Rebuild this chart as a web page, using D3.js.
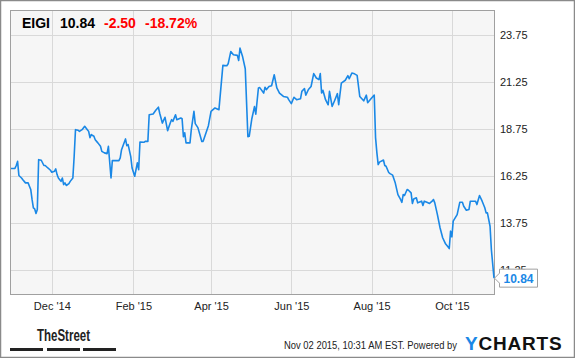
<!doctype html>
<html>
<head>
<meta charset="utf-8"/>
<title>EIGI</title>
<script src="https://d3js.org/d3.v7.min.js"></script>
<style>
  body { margin: 0; background: #fff; }
  text { font-family: Arial, "Liberation Sans", sans-serif; }
</style>
</head>
<body>
<script>
// price history
var dates = [
 "2014-10-31","2014-11-03","2014-11-04","2014-11-05","2014-11-06","2014-11-08","2014-11-09","2014-11-11","2014-11-13","2014-11-14",
 "2014-11-15","2014-11-16","2014-11-17","2014-11-18","2014-11-19","2014-11-20","2014-11-21","2014-11-23","2014-11-25","2014-11-26",
 "2014-11-28","2014-11-30","2014-12-01","2014-12-03","2014-12-04","2014-12-05","2014-12-06","2014-12-08","2014-12-09","2014-12-10",
 "2014-12-11","2014-12-12","2014-12-14","2014-12-15","2014-12-17","2014-12-18","2014-12-19","2014-12-21","2014-12-22","2014-12-24",
 "2014-12-26","2014-12-28","2014-12-29","2014-12-30","2014-12-31","2015-01-02","2015-01-03","2015-01-05","2015-01-07","2015-01-08",
 "2015-01-10","2015-01-12","2015-01-13","2015-01-15","2015-01-16","2015-01-21","2015-01-22","2015-01-23","2015-01-26","2015-01-27",
 "2015-01-28","2015-01-30","2015-01-31","2015-02-02","2015-02-04","2015-02-05","2015-02-06","2015-02-09","2015-02-10","2015-02-12",
 "2015-02-13","2015-02-16","2015-02-18","2015-02-20","2015-02-21","2015-02-23","2015-02-25","2015-02-27","2015-03-01","2015-03-02",
 "2015-03-03","2015-03-05","2015-03-06","2015-03-09","2015-03-10","2015-03-11","2015-03-12","2015-03-13","2015-03-16","2015-03-17",
 "2015-03-19","2015-03-20","2015-03-22","2015-03-25","2015-03-26","2015-03-30","2015-04-01","2015-04-04","2015-04-07","2015-04-10",
 "2015-04-13","2015-04-14","2015-04-16","2015-04-18","2015-04-21","2015-04-22","2015-04-23","2015-04-25","2015-04-27","2015-04-29",
 "2015-04-30","2015-05-02","2015-05-04","2015-05-05","2015-05-07","2015-05-08","2015-05-11","2015-05-12","2015-05-13","2015-05-15",
 "2015-05-17","2015-05-19","2015-05-21","2015-05-23","2015-05-26","2015-05-29","2015-05-30","2015-06-01","2015-06-03","2015-06-05",
 "2015-06-08","2015-06-09","2015-06-11","2015-06-12","2015-06-14","2015-06-16","2015-06-18","2015-06-20","2015-06-22","2015-06-23",
 "2015-06-24","2015-06-25","2015-06-27","2015-06-29","2015-06-30","2015-07-02","2015-07-04","2015-07-06","2015-07-07","2015-07-09",
 "2015-07-12","2015-07-14","2015-07-15","2015-07-17","2015-07-19","2015-07-21","2015-07-23","2015-07-26","2015-07-28","2015-07-29",
 "2015-08-01","2015-08-03","2015-08-04","2015-08-05","2015-08-06","2015-08-07","2015-08-10","2015-08-11","2015-08-12","2015-08-14",
 "2015-08-15","2015-08-17","2015-08-19","2015-08-21","2015-08-23","2015-08-24","2015-08-25","2015-08-26","2015-08-28","2015-08-29",
 "2015-08-31","2015-09-01","2015-09-02","2015-09-04","2015-09-05","2015-09-06","2015-09-08","2015-09-09","2015-09-10","2015-09-12",
 "2015-09-14","2015-09-16","2015-09-17","2015-09-18","2015-09-20","2015-09-22","2015-09-24","2015-09-26","2015-09-28","2015-09-29",
 "2015-09-30","2015-10-01","2015-10-02","2015-10-05","2015-10-07","2015-10-09","2015-10-10","2015-10-12","2015-10-14","2015-10-15",
 "2015-10-17","2015-10-19","2015-10-20","2015-10-22","2015-10-24","2015-10-26","2015-10-27","2015-10-28","2015-10-30","2015-10-31",
 "2015-11-02"];
var prices = [
 16.65,16.66,16.81,17.03,16.28,16.15,16.06,15.89,15.89,15.71,
 15.54,15.01,14.57,14.51,14.27,14.48,17.12,17.09,16.81,16.81,
 16.68,16.56,16.45,16.50,16.63,16.33,16.15,15.97,16.15,15.80,
 15.89,15.75,15.85,15.97,16.15,17.30,18.71,18.68,18.62,18.71,
 18.89,18.71,18.62,18.29,18.45,18.36,18.18,18.01,17.83,17.56,
 17.48,17.44,17.83,16.15,17.07,17.07,17.21,17.65,18.22,17.86,
 17.92,17.28,16.68,16.24,16.95,16.59,18.05,18.04,18.09,18.09,
 19.50,19.54,19.74,19.90,19.58,19.06,19.37,18.66,19.06,19.24,
 19.15,19.50,19.24,19.33,19.29,18.34,18.54,18.01,18.01,18.71,
 19.68,19.03,18.82,18.08,18.09,18.92,19.68,19.86,19.77,22.12,
 22.10,22.20,22.85,22.68,22.65,22.38,23.03,22.57,21.94,18.34,
 18.36,19.29,19.93,19.53,20.92,20.94,20.65,20.96,20.83,21.00,
 21.04,21.62,20.92,20.65,20.47,20.43,20.30,20.09,20.43,20.30,
 20.35,20.74,20.89,20.54,20.84,21.00,21.68,21.45,21.36,21.68,
 20.65,20.80,20.30,20.03,20.74,19.94,20.27,20.62,20.03,21.18,
 21.33,21.57,21.41,21.71,21.67,21.59,20.47,20.24,20.54,20.14,
 20.39,20.54,18.29,17.49,16.86,16.99,17.10,16.81,16.77,16.44,
 16.38,16.30,15.88,15.27,15.01,14.86,15.27,15.22,15.54,15.50,
 15.36,14.80,15.04,15.10,14.83,14.86,14.92,14.69,14.92,14.86,
 14.80,14.92,15.01,14.83,14.21,13.51,12.98,12.68,12.50,12.41,
 13.33,13.03,13.86,14.21,14.86,14.86,14.65,14.44,14.48,14.92,
 14.92,14.92,14.74,15.22,14.92,14.57,14.30,14.30,13.59,12.36,
 10.84];

var xTicks = ["2014-12-01","2015-02-01","2015-04-01","2015-06-01","2015-08-01","2015-10-01"];
var yTicks = [11.25, 13.75, 16.25, 18.75, 21.25, 23.75];
var xDomain = ["2014-10-31","2015-11-02"];
var yDomain = [10, 25];

var ticker = "EIGI";
var lastPrice = "10.84";
var change = "-2.50";
var changePct = "-18.72%";
var stamp = "Nov 02 2015, 10:31 AM EST.";

var W = 575, H = 358;
var pLeft = 11, pRight = 494, pTop = 11, pBottom = 294;

var parse = d3.timeParse("%Y-%m-%d");
var data = dates.map(function(d, i) { return {date: parse(d), price: prices[i]}; });

var svg = d3.select("body").append("svg")
  .attr("width", W).attr("height", H);

// outer frame
svg.append("rect")
  .attr("x", 0.5).attr("y", 0.5).attr("width", W - 1).attr("height", H - 1)
  .attr("fill", "#fff").attr("stroke", "#8a8a8a").attr("stroke-width", 1.5);

var x = d3.scaleTime().domain(xDomain.map(parse)).range([pLeft, pRight]);
var y = d3.scaleLinear().domain(yDomain).range([pBottom, pTop]);

// plot background
svg.append("rect")
  .attr("x", pLeft).attr("y", pTop).attr("width", pRight - pLeft).attr("height", pBottom - pTop)
  .attr("fill", "#f6f6f6");

// grid
svg.append("g").selectAll("line").data(yTicks).join("line")
  .attr("x1", pLeft).attr("x2", pRight)
  .attr("y1", function(d) { return Math.round(y(d)) + 0.5; })
  .attr("y2", function(d) { return Math.round(y(d)) + 0.5; })
  .attr("stroke", "#d9d9d9");
svg.append("g").selectAll("line").data(xTicks.map(parse)).join("line")
  .attr("y1", pTop).attr("y2", pBottom)
  .attr("x1", function(d) { return Math.round(x(d)) + 0.5; })
  .attr("x2", function(d) { return Math.round(x(d)) + 0.5; })
  .attr("stroke", "#d9d9d9");

// plot border
svg.append("rect")
  .attr("x", pLeft - 0.5).attr("y", pTop - 0.5).attr("width", pRight - pLeft + 1).attr("height", pBottom - pTop + 1)
  .attr("fill", "none").attr("stroke", "#a0a0a0");

// axes
var xAxis = d3.axisBottom(x).tickValues(xTicks.map(parse))
  .tickFormat(d3.timeFormat("%b '%y")).tickSize(0).tickPadding(8);
svg.append("g").attr("transform", "translate(0," + pBottom + ")").call(xAxis)
  .call(function(g) { g.select(".domain").remove(); })
  .selectAll("text").attr("font-size", 11).attr("fill", "#222")
  .style("font-family", "Arial, 'Liberation Sans', sans-serif");

var yAxis = d3.axisRight(y).tickValues(yTicks).tickFormat(d3.format(".2f")).tickSize(0).tickPadding(6);
svg.append("g").attr("transform", "translate(" + pRight + ",0)").call(yAxis)
  .call(function(g) { g.select(".domain").remove(); })
  .selectAll("text").attr("font-size", 11).attr("fill", "#222")
  .style("font-family", "Arial, 'Liberation Sans', sans-serif");

// price line
var line = d3.line()
  .x(function(d) { return x(d.date); })
  .y(function(d) { return y(d.price); });
svg.append("path").datum(data)
  .attr("d", line)
  .attr("fill", "none")
  .attr("stroke", "#1a88e6")
  .attr("stroke-width", 1.6)
  .attr("stroke-linejoin", "round");

// last price flag
var last = data[data.length - 1];
var fx = x(last.date), fy = y(last.price);
svg.append("path")
  .attr("d", "M" + (fx + 0.5) + "," + fy + " L" + (fx + 5.5) + "," + (fy - 5) + " L" + (fx + 5.5) + "," + (fy - 9)
    + " L" + (fx + 43.5) + "," + (fy - 9) + " L" + (fx + 43.5) + "," + (fy + 9) + " L" + (fx + 5.5) + "," + (fy + 9)
    + " L" + (fx + 5.5) + "," + (fy + 5) + " Z")
  .attr("fill", "#fff").attr("stroke", "#a0a0a0");
svg.append("text")
  .attr("x", fx + 24.5).attr("y", fy + 4.5)
  .attr("text-anchor", "middle")
  .attr("font-size", 12).attr("font-weight", "bold").attr("fill", "#1a88e6")
  .text(d3.format(".2f")(last.price));

// header
var head = svg.append("text").attr("y", 28).attr("font-size", 14).attr("font-weight", "bold");
head.append("tspan").attr("x", 22).attr("fill", "#000").text(ticker);
head.append("tspan").attr("x", 60).attr("fill", "#000").text(lastPrice);
head.append("tspan").attr("x", 104).attr("fill", "#f00").text(change);
head.append("tspan").attr("x", 145).attr("fill", "#f00").text(changePct);

// footer: TheStreet
svg.append("text")
  .attr("x", 37).attr("y", 341)
  .attr("font-size", 16).attr("font-weight", "bold").attr("fill", "#222")
  .attr("textLength", 53).attr("lengthAdjust", "spacingAndGlyphs")
  .text("TheStreet");
svg.append("g").selectAll("rect").data([10, 47, 83]).join("rect")
  .attr("x", function(d) { return d; }).attr("y", 348)
  .attr("width", 33).attr("height", 3).attr("fill", "#222");

// footer: stamp and logo
svg.append("text")
  .attr("x", 284).attr("y", 349)
  .attr("font-size", 11).attr("fill", "#222")
  .attr("textLength", 173).attr("lengthAdjust", "spacingAndGlyphs")
  .text(stamp + "  Powered by");
var logo = svg.append("text").attr("x", 465).attr("y", 350)
  .attr("font-size", 19).attr("font-weight", "bold").attr("letter-spacing", 0.8);
logo.append("tspan").attr("fill", "#1a88e6").text("Y");
logo.append("tspan").attr("fill", "#111").text("CHARTS");
</script>
</body>
</html>
